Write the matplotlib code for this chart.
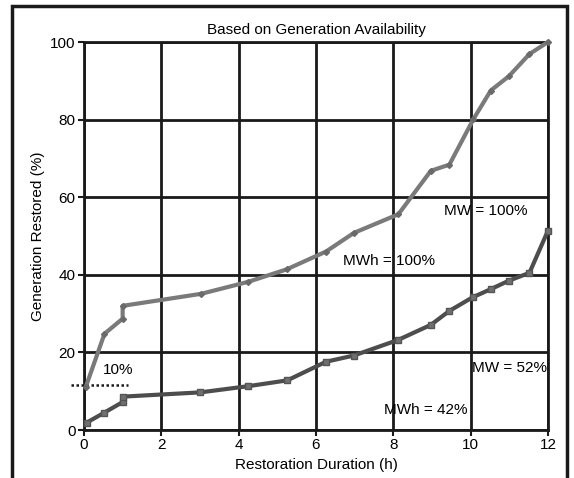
import matplotlib
matplotlib.use('Agg')
from matplotlib import pyplot as plt
from matplotlib.patches import Rectangle

plt.rcParams['font.family'] = ['Liberation Sans', 'DejaVu Sans']

# MWh series (upper curve)
mwh_x = [0.05, 0.53, 1.0, 1.0, 3.03, 4.25, 5.24, 6.26, 6.98, 8.13, 8.97, 9.45, 10.07, 10.52, 10.99, 11.52, 12.0]
mwh_y = [11.2, 24.8, 28.7, 32.0, 35.1, 38.2, 41.4, 46.0, 50.8, 55.6, 66.8, 68.4, 80.1, 87.5, 91.2, 96.9, 100.0]

# MW series (lower curve)
mw_x = [0.07, 0.53, 1.0, 1.0, 3.01, 4.25, 5.26, 6.26, 6.98, 8.12, 8.97, 9.45, 10.05, 10.52, 10.99, 11.52, 12.0]
mw_y = [1.9, 4.5, 7.2, 8.6, 9.7, 11.3, 12.8, 17.6, 19.2, 23.2, 27.1, 30.7, 34.2, 36.3, 38.5, 40.5, 51.4]

fig = plt.figure(figsize=(5.74, 4.78), dpi=100)
ax = fig.add_axes([0.1463, 0.1004, 0.8084, 0.8117])

# outer frame
fig.patches.append(Rectangle((12 / 574, -0.1), 555 / 574, 1.1 - 6 / 478, transform=fig.transFigure,
                             fill=False, edgecolor='#1a1a1a', linewidth=2.5, clip_on=False))

ax.plot(mwh_x, mwh_y, color='#7a7a7a', linewidth=3, marker='D', markersize=3,
        markerfacecolor='#6a6a6a', markeredgecolor='#6a6a6a', zorder=4, clip_on=False)
ax.plot(mw_x, mw_y, color='#4d4d4d', linewidth=3, marker='s', markersize=5,
        markerfacecolor='#707070', markeredgecolor='#555555', zorder=4, clip_on=False)

# 10% threshold
ax.plot([-0.34, 1.14], [11.6, 11.6], color='#1a1a1a', linestyle=(0, (1, 1)), linewidth=1.8,
        clip_on=False, zorder=3)
ax.text(0.5, 14.5, '10%', fontsize=11)

ax.text(9.31, 56.4, 'MW = 100%', fontsize=11, va='center')
ax.text(6.7, 43.6, 'MWh = 100%', fontsize=11, va='center')
ax.text(10.03, 16.0, 'MW = 52%', fontsize=11, va='center')
ax.text(7.76, 5.2, 'MWh = 42%', fontsize=11, va='center')

ax.set_xlim(0, 12)
ax.set_ylim(0, 100)
ax.set_xticks([0, 2, 4, 6, 8, 10, 12])
ax.set_yticks([0, 20, 40, 60, 80, 100])
ax.grid(True, color='#1a1a1a', linewidth=2)
ax.set_axisbelow(True)
for s in ax.spines.values():
    s.set_color('#1a1a1a')
    s.set_linewidth(2)
ax.tick_params(labelsize=11, length=4, width=1.5, color='#1a1a1a', pad=2)
ax.set_xlabel('Restoration Duration (h)', fontsize=11, labelpad=4)
ax.set_ylabel('Generation Restored (%)', fontsize=11, labelpad=4)
ax.set_title('Based on Generation Availability', fontsize=11, pad=6)

fig.savefig('out.png', dpi=100)
